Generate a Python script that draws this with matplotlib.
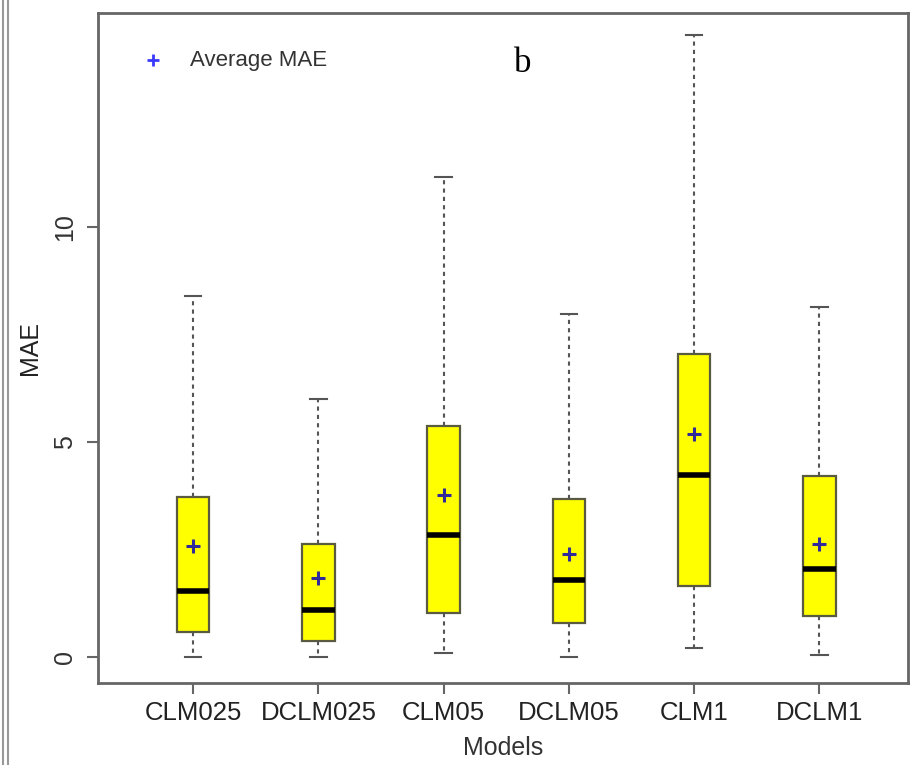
import matplotlib
matplotlib.use("Agg")
import matplotlib.pyplot as plt
from matplotlib.lines import Line2D
import numpy as np

plt.rcParams['font.family'] = ['Liberation Sans', 'DejaVu Sans']

# values
models = ['CLM025', 'DCLM025', 'CLM05', 'DCLM05', 'CLM1', 'DCLM1']
whisker_low = [0.0, 0.0, 0.09, 0.0, 0.22, 0.05]
q1 = [0.60, 0.37, 1.02, 0.80, 1.65, 0.95]
medians = [1.54, 1.11, 2.85, 1.79, 4.23, 2.05]
q3 = [3.72, 2.64, 5.38, 3.67, 7.05, 4.21]
whisker_high = [8.40, 6.00, 11.17, 7.98, 14.47, 8.14]
means = [2.60, 1.84, 3.77, 2.40, 5.20, 2.64]

fig = plt.figure(figsize=(9.24, 7.65), dpi=100)
ax = fig.add_axes([0.106, 0.107, 0.877, 0.876])

stats = []
for i in range(len(models)):
    stats.append({'label': models[i], 'whislo': whisker_low[i], 'q1': q1[i],
                  'med': medians[i], 'q3': q3[i], 'whishi': whisker_high[i]})

pos = np.arange(1, len(models) + 1)
ax.bxp(stats, positions=pos, widths=0.26, showfliers=False, patch_artist=True,
       boxprops=dict(facecolor='#ffff00', edgecolor='#5a5a40', linewidth=1.6),
       medianprops=dict(color='black', linewidth=4),
       whiskerprops=dict(color='#555555', linewidth=1.5, linestyle=(0, (2, 2))),
       capprops=dict(color='#555555', linewidth=1.5),
       capwidths=0.13)
ax.plot(pos, means, linestyle='none', marker='+', markersize=10,
        markeredgewidth=2.2, color='#302a9a', zorder=5)

ax.set_xlim(0.24, 6.71)
ax.set_ylim(-0.6, 14.98)
ax.set_yticks([0, 5, 10])
ax.set_xticks(pos)
ax.set_xticklabels(models, fontsize=18.5, color='#222222')
ax.set_yticklabels(['0', '5', '10'], fontsize=18, color='#333333',
                   rotation=90, va='center')
ax.tick_params(axis='x', length=8, width=1.5, color='#666666', pad=5)
ax.tick_params(axis='y', length=8, width=1.5, color='#666666', pad=7)
for s in ax.spines.values():
    s.set_color('#666666')
    s.set_linewidth(2)

ax.set_xlabel('Models', fontsize=18, color='#333333', labelpad=8)
ax.set_ylabel('MAE', fontsize=18, color='#222222', labelpad=8)

# legend drawn like the R one
ax.plot([0.68], [13.88], linestyle='none', marker='+', markersize=9,
        markeredgewidth=2, color='#3a3aff')
ax.text(0.975, 13.88, 'Average MAE', fontsize=16, color='#333333',
        va='center', ha='left')
ax.text(3.63, 13.8, 'b', fontsize=25, family='Liberation Serif',
        va='center', ha='center', color='black')

# double border at the left edge of the scan
fig.add_artist(Line2D([0.003, 0.003], [0, 1], color='#999999', linewidth=1.5))
fig.add_artist(Line2D([0.009, 0.009], [0, 1], color='#999999', linewidth=1.5))

fig.savefig('out.png', dpi=100)
